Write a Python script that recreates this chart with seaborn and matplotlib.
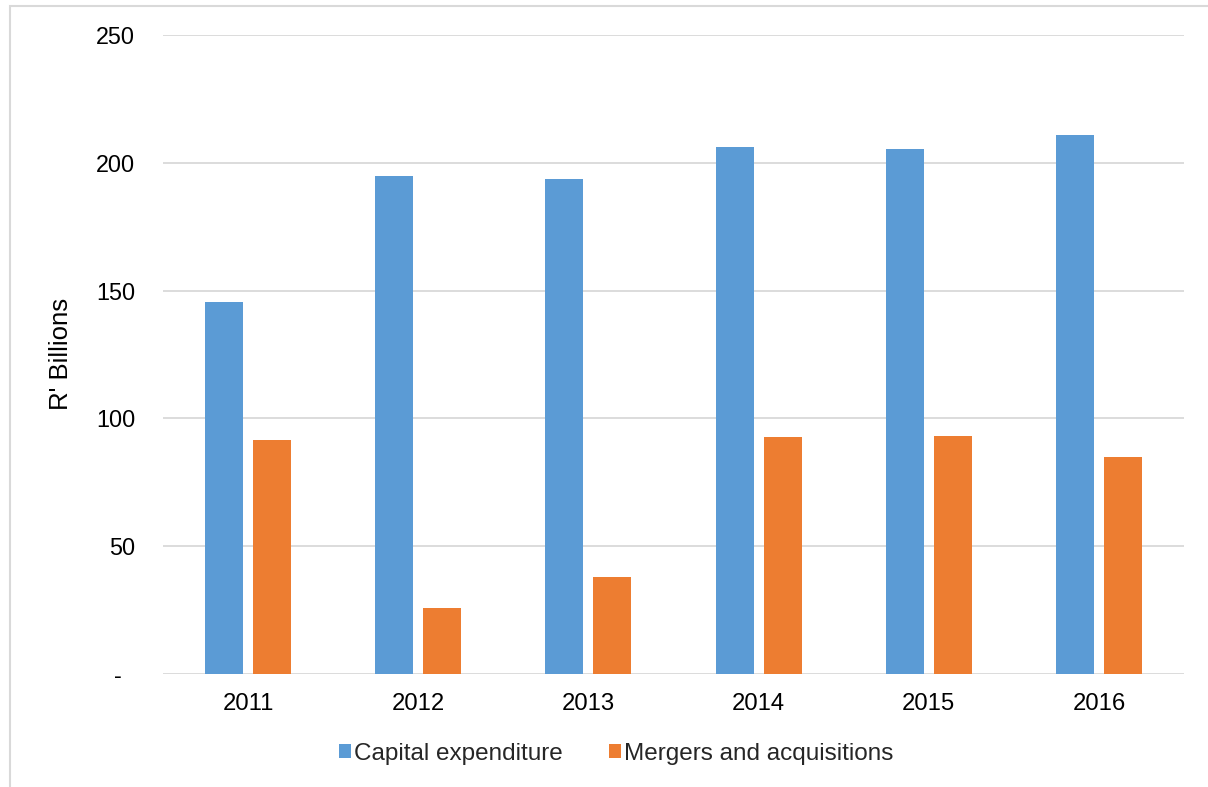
import matplotlib
matplotlib.use("Agg")
import matplotlib.pyplot as plt
import seaborn as sns
import pandas as pd
from matplotlib.patches import Rectangle

years = ["2011", "2012", "2013", "2014", "2015", "2016"]
capex = [145.4, 194.8, 193.6, 206.1, 205.3, 210.8]
mna = [91.7, 25.9, 38.0, 92.9, 93.3, 85.0]
series_names = ["Capital expenditure", "Mergers and acquisitions"]
colors = ["#5B9BD5", "#ED7D31"]
yticks = [0, 50, 100, 150, 200, 250]
ytick_labels = ["-  ", "50", "100", "150", "200", "250"]

df = pd.DataFrame({
    "Year": years * 2,
    "Value": capex + mna,
    "Series": [series_names[0]] * len(years) + [series_names[1]] * len(years),
})

sns.set_theme(style="white")
plt.rcParams["font.family"] = ["Liberation Sans", "DejaVu Sans"]

fig = plt.figure(figsize=(12.08, 7.87), dpi=100)
ax = fig.add_axes([163 / 1208, 1 - 674 / 787, (1184 - 163) / 1208, (674 - 35) / 787])

sns.barplot(data=df, x="Year", y="Value", hue="Series", palette=colors,
            width=0.564, gap=0.21, ax=ax, saturation=1, legend=True, linewidth=0)

ax.set_ylim(0, 250)
ax.set_xlim(-0.5, 5.5)
ax.set_yticks(yticks)
ax.set_yticklabels(ytick_labels)
ax.grid(axis="y", color="#D9D9D9", linewidth=1.3)
ax.set_axisbelow(True)
for s in ax.spines.values():
    s.set_visible(False)
ax.tick_params(axis="y", length=0, pad=20, labelsize=16.8, colors="black")
ax.tick_params(axis="x", length=0, pad=14, labelsize=17.2, colors="black")
ax.set_xlabel("")
ax.set_ylabel("")
fig.text(61 / 1208, 1 - 354 / 787, "R' Billions", rotation=90, ha="center", va="center",
         fontsize=18.5, color="black")

handles, labels = ax.get_legend_handles_labels()
ax.legend_.remove()
fig.legend(handles, labels, loc="center", bbox_to_anchor=(616 / 1208, 1 - 754 / 787),
           ncol=2, frameon=False, fontsize=17.5, handlelength=0.5, handleheight=0.5,
           handletextpad=0.12, columnspacing=1.9)

fig.patches.append(Rectangle((10 / 1208, -0.05), 1.2, 1 - 6 / 787 + 0.05,
                             transform=fig.transFigure, fill=False,
                             edgecolor="#D9D9D9", linewidth=1.5))

fig.savefig("out.png", dpi=100)
